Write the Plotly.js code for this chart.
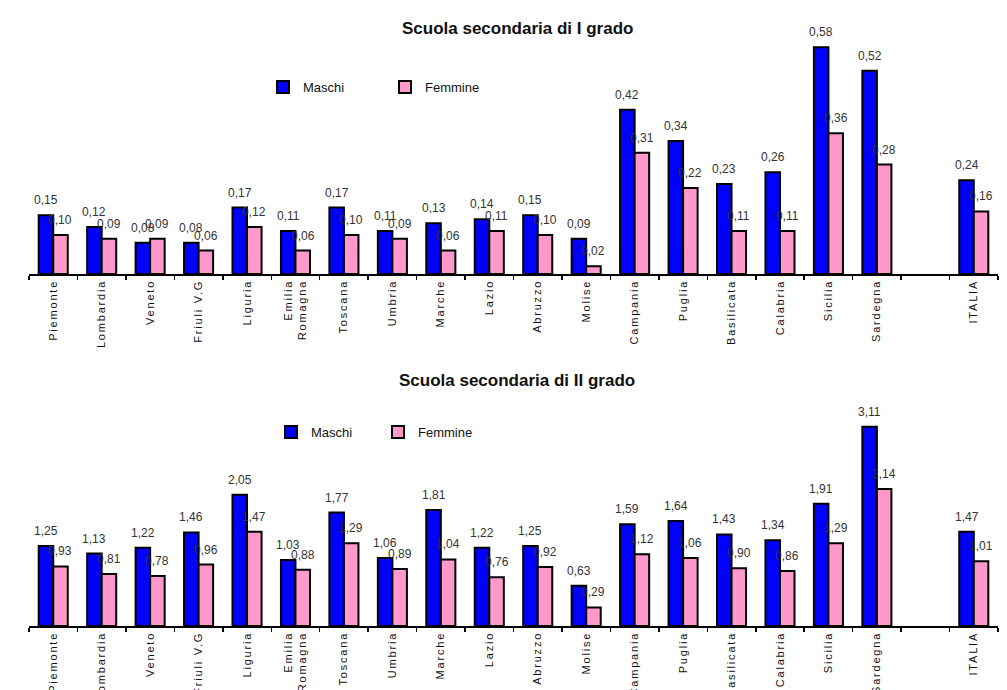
<!DOCTYPE html>
<html>
<head>
<meta charset="utf-8">
<script src="https://cdn.plot.ly/plotly-3.0.1.min.js"></script>
<style>
html,body{margin:0;padding:0;background:#fff;}
#chart{width:1007px;height:690px;}
.xtick text, .x2tick text { letter-spacing: 1.8px; }
</style>
</head>
<body>
<div id="chart"></div>
<script>
// ---- data ----
const regions = ["Piemonte","Lombardia","Veneto","Friuli V.G","Liguria","Emilia<br>Romagna","Toscana","Umbria","Marche","Lazio","Abruzzo","Molise","Campania","Puglia","Basilicata","Calabria","Sicilia","Sardegna"," ","ITALIA"];

const maschiI   = [0.15,0.12,0.08,0.08,0.17,0.11,0.17,0.11,0.13,0.14,0.15,0.09,0.42,0.34,0.23,0.26,0.58,0.52,null,0.24];
const femmineI  = [0.10,0.09,0.09,0.06,0.12,0.06,0.10,0.09,0.06,0.11,0.10,0.02,0.31,0.22,0.11,0.11,0.36,0.28,null,0.16];

const maschiII  = [1.25,1.13,1.22,1.46,2.05,1.03,1.77,1.06,1.81,1.22,1.25,0.63,1.59,1.64,1.43,1.34,1.91,3.11,null,1.47];
const femmineII = [0.93,0.81,0.78,0.96,1.47,0.88,1.29,0.89,1.04,0.76,0.92,0.29,1.12,1.06,0.90,0.86,1.29,2.14,null,1.01];

const titleI = "Scuola secondaria di I grado";
const titleII = "Scuola secondaria di II grado";
const seriesNames = ["Maschi","Femmine"];

// ---- styles ----
const BLUE = "#0000FF";
const PINK = "#FF99CC";
const FONT = "Liberation Sans, Arial, sans-serif";

function bar(y, name, color, xa, ya, legend, show) {
  return {
    type: "bar", x: regions, y: y, name: name,
    xaxis: xa, yaxis: ya, legend: legend, showlegend: show,
    marker: {color: color, line: {color: "#000", width: 2}},
    hoverinfo: "x+y"
  };
}

const data = [
  bar(maschiI, seriesNames[0], BLUE, "x", "y", "legend", true),
  bar(femmineI, seriesNames[1], PINK, "x", "y", "legend", true),
  bar(maschiII, seriesNames[0], BLUE, "x2", "y2", "legend2", true),
  bar(femmineII, seriesNames[1], PINK, "x2", "y2", "legend2", true)
];

const fmt = v => v.toFixed(2).replace(".", ",");
const annotations = [];
function addLabels(vals, off, xref, yref) {
  vals.forEach((v, i) => {
    if (v === null) return;
    annotations.push({
      xref: xref, yref: yref, x: i + off, y: v, text: fmt(v),
      showarrow: false, yanchor: "bottom", yshift: 6,
      font: {family: FONT, size: 12, color: "#333"}
    });
  });
}
addLabels(maschiI, -0.15, "x", "y");
addLabels(femmineI, 0.15, "x", "y");
addLabels(maschiII, -0.15, "x2", "y2");
addLabels(femmineII, 0.15, "x2", "y2");

annotations.push({xref:"paper", yref:"paper", x:517/1007, y:1-17/690, text:"<b>"+titleI+"</b>", showarrow:false, font:{family:FONT, size:17, color:"#111"}});
annotations.push({xref:"paper", yref:"paper", x:517/1007, y:1-380/690, text:"<b>"+titleII+"</b>", showarrow:false, font:{family:FONT, size:17, color:"#111"}});

function xax(anchor) {
  return {
    type: "category", domain: [29/1007, 998/1007], anchor: anchor,
    range: [-0.5, 19.5], tickson: "boundaries", ticks: "outside", ticklen: 4,
    tickcolor: "#000", tickwidth: 1.5, showline: true, linecolor: "#000", linewidth: 1.5,
    tickangle: -90, showgrid: false, zeroline: false, fixedrange: true,
    tickfont: {family: FONT, size: 11, color: "#111"}
  };
}

const layout = {
  width: 1007, height: 690,
  margin: {l: 0, r: 0, t: 0, b: 0},
  paper_bgcolor: "#fff", plot_bgcolor: "#fff",
  bargap: 0.4, bargroupgap: 0,
  xaxis: xax("y"),
  yaxis: {domain: [1-274/690, 1-39.4/690], range: [0, 0.6], visible: false, fixedrange: true},
  xaxis2: xax("y2"),
  yaxis2: {domain: [1-626/690, 1-421/690], range: [0, 3.2], visible: false, fixedrange: true},
  legend: {orientation: "h", x: 263/1007, y: 1-87/690, yanchor: "middle", xanchor: "left",
           entrywidth: 77, font: {family: FONT, size: 13, color: "#111"}, bgcolor: "rgba(0,0,0,0)"},
  legend2: {orientation: "h", x: 271/1007, y: 1-432/690, yanchor: "middle", xanchor: "left",
           entrywidth: 62, font: {family: FONT, size: 13, color: "#111"}, bgcolor: "rgba(0,0,0,0)"},
  annotations: annotations,
  showlegend: true
};

Plotly.newPlot("chart", data, layout, {displayModeBar: false, staticPlot: true});
</script>
</body>
</html>
